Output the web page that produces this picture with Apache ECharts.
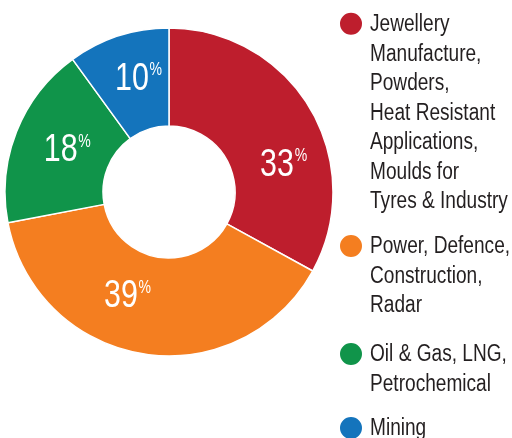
<!DOCTYPE html>
<html>
<head>
<meta charset="utf-8">
<script src="https://cdn.jsdelivr.net/npm/echarts@6/dist/echarts.min.js"></script>
<style>
html,body{margin:0;padding:0;background:#fff;}
#c{width:512px;height:438px;}
</style>
</head>
<body>
<div id="c"></div>
<script>
const categories = [
  'Jewellery\nManufacture,\nPowders,\nHeat Resistant\nApplications,\nMoulds for\nTyres & Industry',
  'Power, Defence,\nConstruction,\nRadar',
  'Oil & Gas, LNG,\nPetrochemical',
  'Mining'
];
const values = [33, 39, 18, 10];
const colors = ['#BE1E2D', '#F47E20', '#10944A', '#1474BC'];

const labelOffsets = [[13, 33], [-23, -12], [8, 2], [6, -1]];
const legendIconCenters = [22.7, 245, 353, 427];
const FONT = '"Liberation Sans", Arial, sans-serif';
const LH = 29.5;
const NARROW_LEGEND = 0.83;
const NARROW_LABEL = 0.78;

const chart = echarts.init(document.getElementById('c'), null, {renderer: 'canvas'});

const seriesData = categories.map((name, i) => ({
  name: name,
  value: values[i],
  itemStyle: {color: colors[i]},
  label: {offset: labelOffsets[i]}
}));

const iconLegends = categories.map((name, i) => ({
  orient: 'vertical',
  left: 338,
  top: legendIconCenters[i] - 12,
  padding: 0,
  itemWidth: 24,
  itemHeight: 24,
  icon: 'circle',
  selectedMode: false,
  data: [name],
  formatter: () => ' ',
  textStyle: {fontSize: 1}
}));

const textLegends = categories.map((name, i) => ({
  orient: 'vertical',
  left: 365,
  top: legendIconCenters[i] - LH / 2 + 2,
  padding: 0,
  itemWidth: 0,
  itemHeight: 0,
  icon: 'none',
  selectedMode: false,
  data: [name],
  textStyle: {
    fontFamily: FONT,
    fontSize: 23,
    color: '#231F20',
    lineHeight: LH
  }
}));

chart.setOption({
  animation: false,
  legend: iconLegends.concat(textLegends),
  series: [{
    type: 'pie',
    center: [169, 192],
    radius: [66, 164],
    startAngle: 90,
    clockwise: true,
    avoidLabelOverlap: false,
    itemStyle: {borderColor: '#ffffff', borderWidth: 1.5},
    label: {
      show: true,
      position: 'inside',
      formatter: p => '{v|' + p.value + '}{p|%}',
      rich: {
        v: {fontFamily: FONT, fontSize: 39, color: '#ffffff', lineHeight: 41},
        p: {fontFamily: FONT, fontSize: 18, color: '#ffffff', verticalAlign: 'top', lineHeight: 20, padding: [3, 0, 0, 1]}
      }
    },
    labelLine: {show: false},
    emphasis: {disabled: true},
    data: seriesData
  }]
});

// condensed look: narrow the text horizontally (no condensed font is installed)
function condense(el) {
  if (!el || el.type !== 'text' || el.__condensed) return;
  el.__condensed = true;
  const isLabel = !!(el.style && el.style.rich);
  const s = isLabel ? NARROW_LABEL : NARROW_LEGEND;
  el.originX = isLabel ? 0 : (el.style.x || 0);
  el.originY = 0;
  el.scaleX = s;
  el.markRedraw();
}
chart.getZr().storage.getRoots().forEach(root => {
  const visit = el => {
    condense(el);
    if (el.getTextContent) condense(el.getTextContent());
  };
  visit(root);
  if (root.traverse) root.traverse(visit);
});
chart.getZr().refreshImmediately();
</script>
</body>
</html>
